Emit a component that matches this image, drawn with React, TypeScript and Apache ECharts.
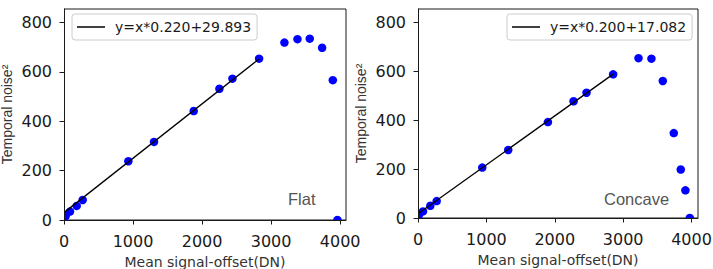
import React, { useEffect, useRef } from "react";
import * as echarts from "echarts";

// Flat panel: mean signal-offset (DN) vs temporal noise²
const flatX = [24, 87, 184, 271, 932, 1304, 1879, 2251, 2440, 2826, 3193, 3382, 3560, 3739, 3894, 3961];
const flatY = [16, 34, 57, 81, 238, 316, 441, 531, 572, 653, 718, 732, 734, 697, 566, 0];

// Concave panel
const concaveX = [10, 73, 180, 273, 940, 1320, 1900, 2275, 2465, 2854, 3225, 3414, 3580, 3741, 3843, 3911, 3975];
const concaveY = [10, 27, 50, 69, 206, 278, 392, 477, 512, 587, 653, 651, 560, 347, 198, 113, 0];

// Linear fits over the linear range
const flatFit = { slope: 0.22, intercept: 29.893, range: [0, 2826] };
const concaveFit = { slope: 0.2, intercept: 17.082, range: [0, 2854] };

const xTicks = [0, 1000, 2000, 3000, 4000];
const yTicks = [0, 200, 400, 600, 800];

const fitName = (f: { slope: number; intercept: number }) =>
  `y=x*${f.slope.toFixed(3)}+${f.intercept.toFixed(3)}`;

const fitLine = (f: { slope: number; intercept: number; range: number[] }) =>
  f.range.map((x) => [x, f.slope * x + f.intercept]);

const tickFont = "DejaVu Sans";
const nameFont = "Liberation Sans";
const ink = "#1a1a1a";

// Plot rectangles of the two panels
const panels = [
  { left: 64, top: 9, width: 282, height: 211, xMax: 4085 },
  { left: 418, top: 9, width: 280, height: 209, xMax: 4095 },
];

function xAxis(gridIndex: number, max: number) {
  return {
    type: "value",
    gridIndex,
    min: 0,
    max,
    z: 5,
    name: "Mean signal-offset(DN)",
    nameLocation: "middle",
    nameGap: 35,
    nameTextStyle: { fontFamily: tickFont, fontSize: 14, color: "#333" },
    splitLine: { show: false },
    axisLine: { show: true, lineStyle: { color: ink, width: 1 } },
    axisTick: { show: true, length: 4.5, lineStyle: { color: ink }, customValues: xTicks },
    axisLabel: {
      margin: 13,
      fontFamily: tickFont,
      fontSize: 16,
      color: ink,
      customValues: xTicks,
      formatter: (v: number) => String(v),
    },
  };
}

function yAxis(gridIndex: number) {
  return {
    type: "value",
    gridIndex,
    min: 0,
    max: 854,
    z: 5,
    name: "Temporal noise²",
    nameLocation: "middle",
    nameGap: 50,
    nameTextStyle: { fontFamily: nameFont, fontSize: 14, color: "#333" },
    splitLine: { show: false },
    axisLine: { show: true, lineStyle: { color: ink, width: 1 } },
    axisTick: { show: true, length: 4.5, lineStyle: { color: ink }, customValues: yTicks },
    axisLabel: {
      margin: 12,
      fontFamily: tickFont,
      fontSize: 16,
      color: ink,
      customValues: yTicks,
      formatter: (v: number) => String(v),
    },
  };
}

function legend(name: string, left: number) {
  return {
    data: [{ name, icon: "rect" }],
    left,
    top: 14,
    orient: "horizontal",
    selectedMode: false,
    itemWidth: 28,
    itemHeight: 1.5,
    padding: [5, 6, 5, 5],
    borderColor: "#cccccc",
    borderWidth: 1,
    borderRadius: 3,
    backgroundColor: "rgba(255,255,255,0.8)",
    textStyle: {
      fontFamily: tickFont,
      fontSize: 14,
      color: ink,
      lineHeight: 16,
      padding: [0, 0, 0, 5],
    },
  };
}

// White strips outside each plot rectangle so markers are cut at the axes
function masks() {
  const out: any[] = [];
  panels.forEach((p) => {
    out.push({
      type: "rect",
      z: 4,
      silent: true,
      shape: { x: p.left - 6, y: p.top + p.height, width: p.width + 12, height: 8 },
      style: { fill: "#ffffff" },
    });
    out.push({
      type: "rect",
      z: 4,
      silent: true,
      shape: { x: p.left - 8, y: p.top, width: 8, height: p.height + 8 },
      style: { fill: "#ffffff" },
    });
  });
  return out;
}

export default function App() {
  const ref = useRef<HTMLDivElement>(null);

  useEffect(() => {
    if (!ref.current) return;
    const chart = echarts.init(ref.current, null, { renderer: "svg" });
    const flatName = fitName(flatFit);
    const concaveName = fitName(concaveFit);
    const labelStyle = { fontFamily: nameFont, fontSize: 16.5, fontWeight: "normal", color: "#555" };

    chart.setOption({
      animation: false,
      backgroundColor: "#ffffff",
      grid: panels.map((p) => ({
        left: p.left,
        top: p.top,
        width: p.width,
        height: p.height,
        outerBoundsMode: "none",
        containLabel: false,
        show: true,
        borderColor: ink,
        borderWidth: 1,
        backgroundColor: "transparent",
      })),
      xAxis: panels.map((p, i) => xAxis(i, p.xMax)),
      yAxis: panels.map((_, i) => yAxis(i)),
      legend: [legend(flatName, 72), legend(concaveName, 507)],
      title: [
        { text: "Flat", left: 288, top: 190, padding: 0, textStyle: labelStyle },
        { text: "Concave", left: 604, top: 190, padding: 0, textStyle: labelStyle },
      ],
      graphic: masks(),
      series: [
        {
          type: "scatter",
          xAxisIndex: 0,
          yAxisIndex: 0,
          data: flatX.map((x, i) => [x, flatY[i]]),
          symbolSize: 8.5,
          itemStyle: { color: "#0000ff", opacity: 1 },
          z: 2,
        },
        {
          type: "line",
          name: flatName,
          xAxisIndex: 0,
          yAxisIndex: 0,
          data: fitLine(flatFit),
          symbol: "none",
          lineStyle: { color: "#000000", width: 1.3 },
          itemStyle: { color: "#000000" },
          z: 3,
        },
        {
          type: "scatter",
          xAxisIndex: 1,
          yAxisIndex: 1,
          data: concaveX.map((x, i) => [x, concaveY[i]]),
          symbolSize: 8.5,
          itemStyle: { color: "#0000ff", opacity: 1 },
          z: 2,
        },
        {
          type: "line",
          name: concaveName,
          xAxisIndex: 1,
          yAxisIndex: 1,
          data: fitLine(concaveFit),
          symbol: "none",
          lineStyle: { color: "#000000", width: 1.3 },
          itemStyle: { color: "#000000" },
          z: 3,
        },
      ],
    });

    return () => chart.dispose();
  }, []);

  return (
    <div
      ref={ref}
      style={{ position: "fixed", left: 0, top: 0, width: 713, height: 269 }}
    />
  );
}
